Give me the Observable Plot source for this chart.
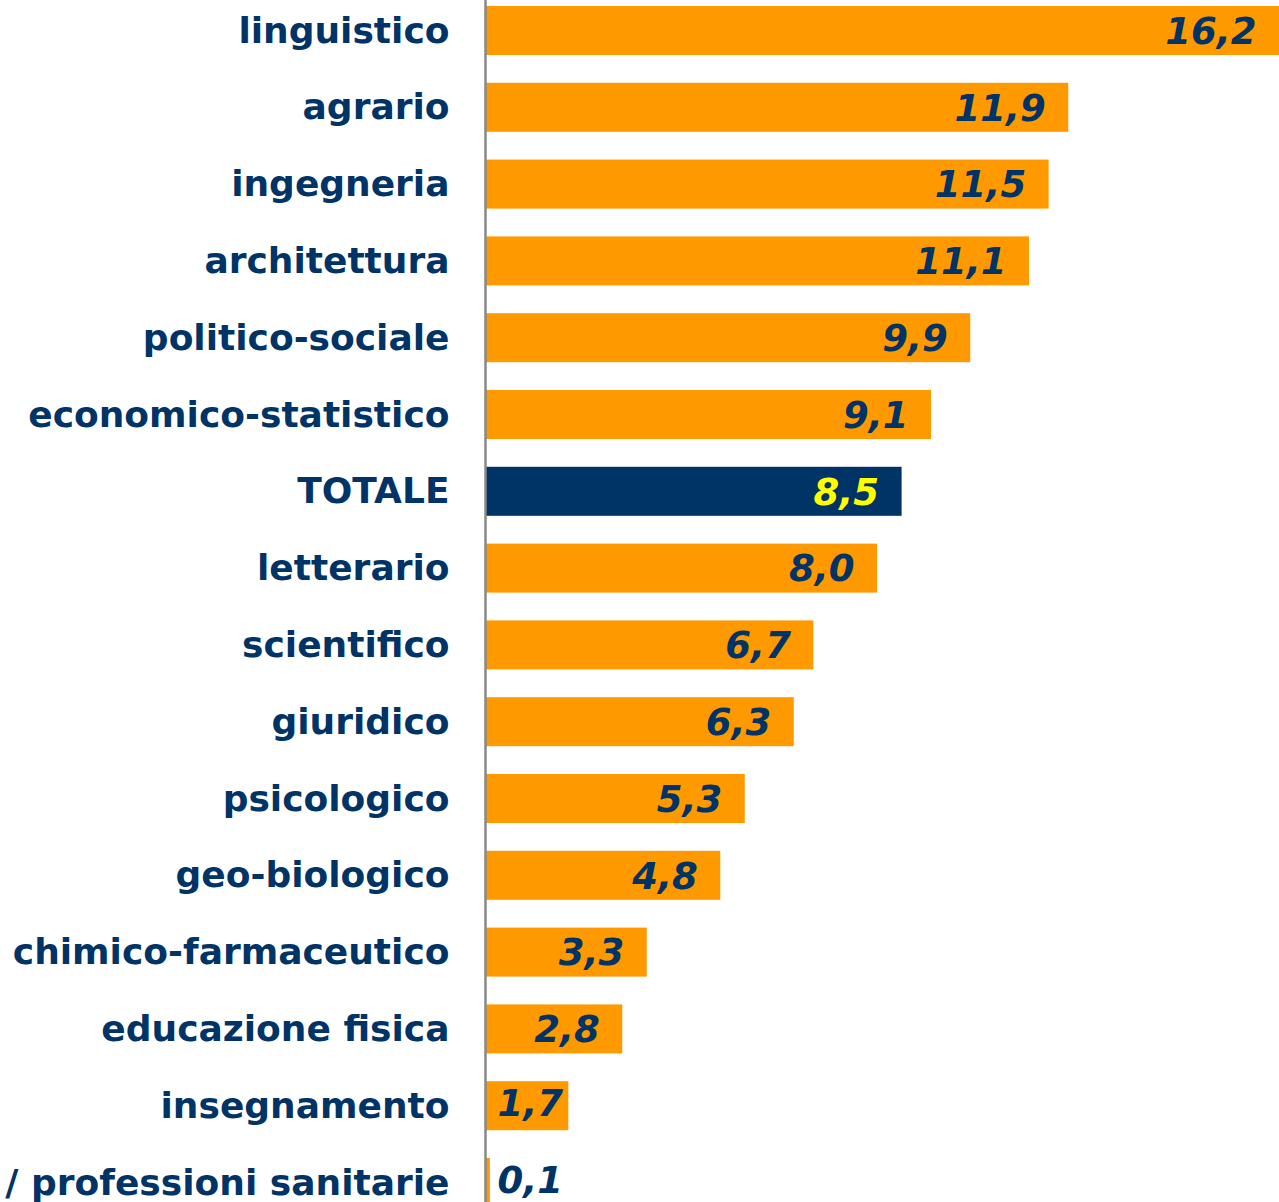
<!DOCTYPE html>
<html>
<head>
<meta charset="utf-8">
<script src="https://cdn.jsdelivr.net/npm/d3@7"></script>
<script src="https://cdn.jsdelivr.net/npm/@observablehq/plot@0.6"></script>
<style>
  html, body { margin: 0; padding: 0; background: #fff; }
  #chart svg { overflow: hidden; }
</style>
</head>
<body>
<div id="chart"></div>
<script>
const categories = [
  "linguistico", "agrario", "ingegneria", "architettura", "politico-sociale",
  "economico-statistico", "TOTALE", "letterario", "scientifico", "giuridico",
  "psicologico", "geo-biologico", "chimico-farmaceutico", "educazione fisica",
  "insegnamento", "medico / professioni sanitarie"
];
const values = [16.2, 11.9, 11.5, 11.1, 9.9, 9.1, 8.5, 8.0, 6.7, 6.3, 5.3, 4.8, 3.3, 2.8, 1.7, 0.1];
const highlight = "TOTALE";

const data = categories.map((c, i) => ({category: c, value: values[i], total: c === highlight}));
const fmt = v => v.toFixed(1).replace(".", ",");
const navy = "#003366";
const orange = "#FF9900";
const font = "DejaVu Sans, Verdana, sans-serif";

// labels that do not fit inside the bar end start just right of the axis
const inside = data.filter(d => d.value >= 2);
const atAxis = data.filter(d => d.value < 2);

const labelStyle = {fontSize: 37, fontWeight: "bold", fontStyle: "italic"};

const chart = Plot.plot({
  width: 1279,
  height: 1202,
  marginLeft: 485,
  marginRight: 0,
  marginTop: 0,
  marginBottom: -11,
  style: {fontFamily: font, background: "#fff"},
  x: {domain: [0, 16.2], axis: null},
  y: {domain: categories, paddingInner: 0.362, paddingOuter: 0.078, round: false,
      label: null, tickSize: 0, tickPadding: 36},
  marks: [
    Plot.barX(data, {x: "value", y: "category", fill: d => d.total ? navy : orange}),
    Plot.ruleX([0], {stroke: "#888888", strokeWidth: 2.5}),
    Plot.axisY({tickSize: 0, tickPadding: 36, fontSize: 36, fontWeight: "bold",
      fill: navy, label: null}),
    Plot.text(inside, {x: "value", y: "category", text: d => fmt(d.value),
      textAnchor: "end", dx: -23, dy: 1, ...labelStyle,
      fill: d => d.total ? "#FFFF00" : navy}),
    Plot.text(atAxis, {x: 0, y: "category", text: d => fmt(d.value),
      textAnchor: "start", dx: 12, dy: -2, ...labelStyle, fill: navy})
  ]
});
document.getElementById("chart").appendChild(chart);
</script>
</body>
</html>
